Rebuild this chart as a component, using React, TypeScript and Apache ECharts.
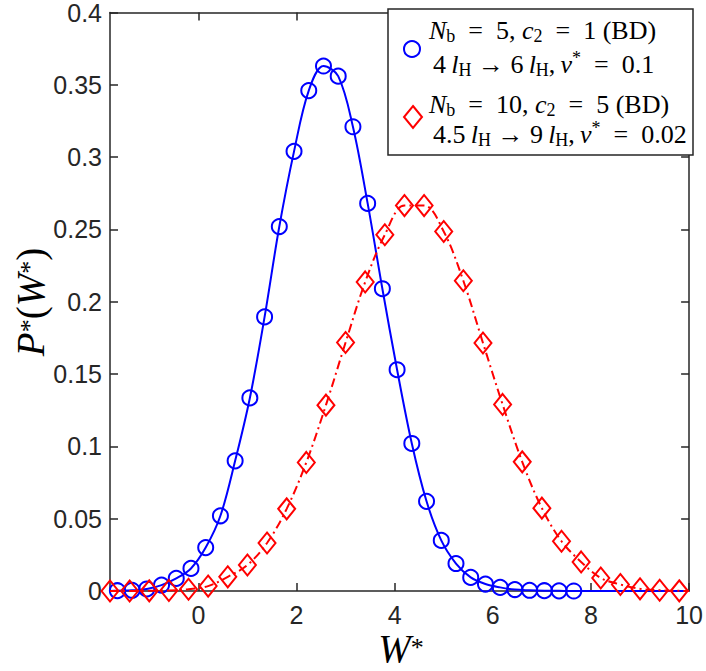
import React, { useEffect, useRef } from 'react';
import * as echarts from 'echarts';

// ---- data ----
const blueX = [-1.65, -1.35, -1.05, -0.75, -0.45, -0.15, 0.15, 0.45, 0.75, 1.05, 1.35, 1.65, 1.95, 2.25, 2.55, 2.85, 3.15, 3.45, 3.75, 4.05, 4.35, 4.65, 4.95, 5.25, 5.55, 5.85, 6.15, 6.45, 6.75, 7.05, 7.35, 7.65];
const blueY = [0.0002, 0.0005, 0.0014, 0.0041, 0.0087, 0.0156, 0.03, 0.052, 0.09, 0.1335, 0.1895, 0.252, 0.304, 0.346, 0.363, 0.356, 0.321, 0.268, 0.209, 0.153, 0.102, 0.062, 0.035, 0.019, 0.0094, 0.0048, 0.0025, 0.001, 0.0005, 0.0002, 0.0001, 0.0];
const redX = [-1.8, -1.4, -1.0, -0.6, -0.2, 0.2, 0.6, 1.0, 1.4, 1.8, 2.2, 2.6, 3.0, 3.4, 3.8, 4.2, 4.6, 5.0, 5.4, 5.8, 6.2, 6.6, 7.0, 7.4, 7.8, 8.2, 8.6, 9.0, 9.4, 9.8];
const redY = [0, 0, 0.0001, 0.0004, 0.0012, 0.0034, 0.0098, 0.018, 0.0332, 0.0568, 0.0889, 0.1285, 0.1718, 0.2137, 0.2463, 0.2665, 0.2665, 0.2486, 0.2145, 0.1715, 0.129, 0.0893, 0.0573, 0.0344, 0.0201, 0.009, 0.0045, 0.0015, 0.0005, 0.0001];
const xTicks = [0, 2, 4, 6, 8, 10];
const X_MIN = -1.8;
const X_MAX = 10;
const Y_MIN = 0;
const Y_MAX = 0.4;
const Y_STEP = 0.05;
// line ends (curves lie on zero at the plot edges)
const curveStart: [number, number] = [X_MIN, 0];
const curveEnd: [number, number] = [X_MAX, 0];

const EN = '\u2002';
const TH = '\u2009';
const legendLines = [
  `{i|N}{sb|b}{r|${EN}=${EN}5, }{i|c}{sb|2}{r|${EN}=${EN}1 (BD)}`,
  `{r|4${TH}}{i|l}{sb|H}{r| → 6${TH}}{i|l}{sb|H}{r|,${TH}}{i|v}{sp|*}{r|${EN}=${EN}0.1}`,
  `{i|N}{sb|b}{r|${EN}=${EN}10, }{i|c}{sb|2}{r|${EN}=${EN}5 (BD)}`,
  `{r|4.5${TH}}{i|l}{sb|H}{r| → 9${TH}}{i|l}{sb|H}{r|,${TH}}{i|v}{sp|*}{r|${EN}=${EN}0.02}`,
];
const xName = '{i|W}{sp|*}';
const yName = '{i|P}{sp|*}{r|(}{i|W}{sp|*}{r|)}';

const BLUE = '#0000ff';
const RED = '#ff0000';
const AXIS = '#262626';
const SERIF = '"Liberation Serif", "DejaVu Serif", serif';
const SANS = '"Liberation Sans", Arial, sans-serif';

const legendRich = {
  i: { fontFamily: SERIF, fontStyle: 'italic', fontSize: 26, lineHeight: 30, fill: '#000' },
  r: { fontFamily: SERIF, fontSize: 26, lineHeight: 30, fill: '#000' },
  sb: { fontFamily: SERIF, fontSize: 18, lineHeight: 18, verticalAlign: 'bottom', fill: '#000' },
  sp: { fontFamily: SERIF, fontSize: 18, lineHeight: 22, verticalAlign: 'top', fill: '#000' },
};

const nameRich = {
  i: { fontFamily: SERIF, fontStyle: 'italic', fontSize: 39, lineHeight: 28, fill: '#000' },
  r: { fontFamily: SERIF, fontSize: 39, lineHeight: 28, fill: '#000' },
  sp: { fontFamily: SERIF, fontSize: 26, lineHeight: 14, verticalAlign: 'top', fill: '#000' },
};

export default function App() {
  const ref = useRef<HTMLDivElement>(null);
  useEffect(() => {
    if (!ref.current) return;
    const chart = echarts.init(ref.current, undefined, { renderer: 'svg' });
    const bluePts = blueX.map((x, i) => [x, blueY[i]]);
    const redPts = redX.map((x, i) => [x, redY[i]]);
    const axisLine = { show: true, onZero: false, lineStyle: { color: AXIS, width: 1.5 } };
    const tickStyle = { show: true, inside: true, length: 8, lineStyle: { color: AXIS, width: 1.5 } };
    const legendTextX = [429, 433, 429, 433];
    const legendTextY = [30, 64, 104, 134];
    chart.setOption({
      animation: false,
      backgroundColor: '#fff',
      grid: { left: 110, right: 13, top: 9, bottom: 80, containLabel: false },
      xAxis: [
        {
          type: 'value', min: X_MIN, max: X_MAX, position: 'bottom',
          axisLine, splitLine: { show: false },
          axisTick: { ...tickStyle, customValues: xTicks },
          axisLabel: { customValues: xTicks, fontFamily: SANS, fontSize: 25, color: AXIS, margin: 11 },
        },
        {
          type: 'value', min: X_MIN, max: X_MAX, position: 'top',
          axisLine, splitLine: { show: false },
          axisTick: { ...tickStyle, customValues: xTicks },
          axisLabel: { show: false },
        },
      ],
      yAxis: [
        {
          type: 'value', min: Y_MIN, max: Y_MAX, interval: Y_STEP, position: 'left',
          axisLine, splitLine: { show: false },
          axisTick: tickStyle,
          axisLabel: {
            fontFamily: SANS, fontSize: 25, color: AXIS, margin: 8,
            formatter: (v: number) => String(+v.toFixed(2)),
          },
        },
        {
          type: 'value', min: Y_MIN, max: Y_MAX, interval: Y_STEP, position: 'right',
          axisLine, splitLine: { show: false },
          axisTick: tickStyle,
          axisLabel: { show: false },
        },
      ],
      series: [
        {
          type: 'line', data: [curveStart, ...bluePts, curveEnd], smooth: 0.35,
          showSymbol: false, symbol: 'none',
          lineStyle: { color: BLUE, width: 2 }, z: 2, silent: true,
        },
        {
          type: 'scatter', data: bluePts, symbol: 'circle', symbolSize: 15,
          itemStyle: { color: 'rgba(0,0,0,0)', borderColor: BLUE, borderWidth: 2, opacity: 1 },
          z: 3, silent: true,
        },
        {
          type: 'line', data: [...redPts, curveEnd], smooth: 0.35,
          showSymbol: false, symbol: 'none',
          lineStyle: { color: RED, width: 2, type: [9, 4, 2, 4] }, z: 4, silent: true,
        },
        {
          type: 'scatter', data: redPts, symbol: 'diamond', symbolSize: [17, 21],
          itemStyle: { color: 'rgba(0,0,0,0)', borderColor: RED, borderWidth: 2, opacity: 1 },
          z: 5, silent: true,
        },
      ],
      graphic: [
        {
          type: 'text', z: 50, x: 401, y: 648,
          style: { text: xName, rich: nameRich, align: 'center', verticalAlign: 'middle' },
        },
        {
          type: 'text', z: 50, x: 30, y: 302, rotation: Math.PI / 2,
          style: { text: yName, rich: nameRich, align: 'center', verticalAlign: 'middle' },
        },
        {
          type: 'rect', z: 100,
          shape: { x: 388, y: 9, width: 305, height: 146 },
          style: { fill: '#fff', stroke: AXIS, lineWidth: 1.5 },
        },
        {
          type: 'circle', z: 101,
          shape: { cx: 412, cy: 49, r: 8 },
          style: { fill: 'none', stroke: BLUE, lineWidth: 2 },
        },
        {
          type: 'polygon', z: 101,
          shape: { points: [[413, 106], [422, 117], [413, 128], [404, 117]] },
          style: { fill: 'none', stroke: RED, lineWidth: 2 },
        },
        ...legendLines.map((t, k) => ({
          type: 'text', z: 101,
          x: legendTextX[k], y: legendTextY[k],
          style: { text: t, rich: legendRich, fill: '#000', align: 'left', verticalAlign: 'middle' },
        })),
      ],
    });
    return () => chart.dispose();
  }, []);
  return (
    <div
      ref={ref}
      style={{ position: 'fixed', left: 0, top: 0, width: 706, height: 671, background: '#fff' }}
    />
  );
}
